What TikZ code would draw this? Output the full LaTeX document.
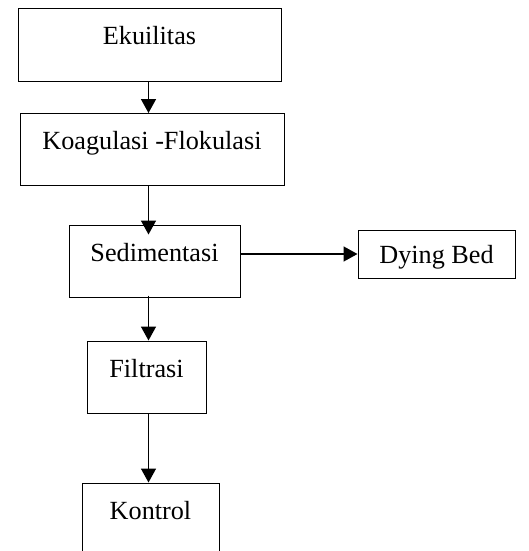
\documentclass[tikz,border=0pt]{standalone}
\usepackage{fontspec}
\setmainfont{Liberation Serif}
\usetikzlibrary{arrows.meta}

\begin{document}
\begin{tikzpicture}[x=1pt, y=-1pt,
    box/.style={draw, line width=1pt, inner sep=0pt, text height=36pt, text depth=36pt,
                font=\fontsize{26.2}{30}\selectfont},
    flow/.style={line width=1.6pt, -{Triangle[length=14pt, width=15pt]}}]
    % 描画範囲
    \path[use as bounding box, clip] (0,0) rectangle (529,551);

    % 箱の描画
    \node[box, minimum width=263pt] (ekui) at (149.5,45) {Ekuilitas};
    \node[box, minimum width=264pt] (koag) at (152,149.5) {Koagulasi -Flokulasi};
    \node[box, minimum width=171pt] (sed) at (154.5,261) {Sedimentasi};
    \node[box, minimum width=157pt, text height=33pt, text depth=15pt] (dying) at (436.5,254) {Dying Bed};
    \node[box, minimum width=119pt] (filt) at (146.5,377) {Filtrasi\hspace{4pt}};
    \node[box, minimum width=137pt] (kont) at (150.5,519) {Kontrol\hspace{14pt}};

    % 矢印の描画
    \coordinate (spine) at (148.5,0);
    \draw[flow] (ekui.south -| spine) -- (koag.north -| spine);
    \draw[flow] (koag.south -| spine) -- ([yshift=-10pt]sed.north -| spine);
    \draw[flow] (sed.east |- dying.west) -- (dying.west);
    \draw[flow] ([yshift=2pt]sed.south -| spine) -- (filt.north -| spine);
    \draw[flow] (filt.south -| spine) -- (kont.north -| spine);

\end{tikzpicture}
\end{document}
